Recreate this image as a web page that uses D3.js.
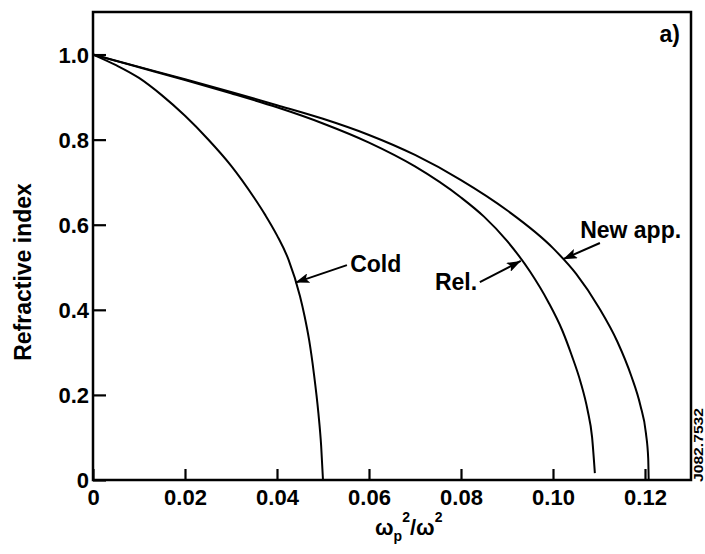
<!DOCTYPE html>
<html>
<head>
<meta charset="utf-8">
<script src="https://cdn.jsdelivr.net/npm/d3@7"></script>
<style>
  body { margin: 0; background: #fff; }
  text { font-family: "Liberation Sans", Arial, sans-serif; font-weight: bold; fill: #000; }
</style>
</head>
<body>
<div id="chart"></div>
<script>
// values: [omega_p^2/omega^2, refractive index]
const coldCurve = [
  [0, 1.0], [0.005, 0.975], [0.01, 0.945], [0.015, 0.904], [0.02, 0.856],
  [0.025, 0.801], [0.03, 0.739], [0.035, 0.664], [0.0375, 0.622], [0.04, 0.575],
  [0.0425, 0.518], [0.045, 0.432], [0.046, 0.385], [0.047, 0.328], [0.048, 0.252],
  [0.049, 0.157], [0.0496, 0.080], [0.050, 0.0]
];
const relCurve = [
  [0, 1.0], [0.01, 0.970], [0.02, 0.940], [0.03, 0.909], [0.04, 0.876],
  [0.05, 0.838], [0.06, 0.793], [0.07, 0.737], [0.08, 0.664], [0.085, 0.619],
  [0.09, 0.562], [0.095, 0.490], [0.099, 0.418], [0.102, 0.352], [0.104, 0.295],
  [0.106, 0.230], [0.1075, 0.165], [0.1085, 0.100], [0.1091, 0.016]
];
const newAppCurve = [
  [0, 1.0], [0.01, 0.971], [0.02, 0.942], [0.03, 0.912], [0.04, 0.881],
  [0.05, 0.849], [0.06, 0.811], [0.07, 0.764], [0.08, 0.705], [0.09, 0.634],
  [0.10, 0.545], [0.105, 0.485], [0.110, 0.405], [0.114, 0.325], [0.117, 0.245],
  [0.119, 0.175], [0.1202, 0.110], [0.1207, 0.050], [0.1208, 0.0]
];

const xTicks = [0, 0.02, 0.04, 0.06, 0.08, 0.10, 0.12];
const xTickLabels = ["0", "0.02", "0.04", "0.06", "0.08", "0.10", "0.12"];
const yTicks = [0, 0.2, 0.4, 0.6, 0.8, 1.0];
const yTickLabels = ["0", "0.2", "0.4", "0.6", "0.8", "1.0"];

// curve labels: text position, arrow tail, arrow head (data units)
const labels = [
  {name: "Cold", text: [0.0559, 0.489], anchor: "start", from: [0.0552, 0.505], to: [0.0440, 0.464]},
  {name: "Rel.", text: [0.0835, 0.447], anchor: "end", from: [0.0841, 0.465], to: [0.0930, 0.515]},
  {name: "New app.", text: [0.1059, 0.569], anchor: "start", from: [0.1102, 0.557], to: [0.1022, 0.519]}
];

const W = 705, H = 554;
const margin = {top: 12, right: 14, bottom: 74, left: 93};

const x = d3.scaleLinear().domain([0, 0.13]).range([margin.left, W - margin.right]);
const y = d3.scaleLinear().domain([0, 1.1]).range([H - margin.bottom, margin.top]);

const svg = d3.select("#chart").append("svg")
  .attr("width", W)
  .attr("height", H);

svg.append("defs").append("marker")
  .attr("id", "arrow")
  .attr("markerUnits", "userSpaceOnUse")
  .attr("viewBox", "0 0 14 10")
  .attr("refX", 14).attr("refY", 5)
  .attr("markerWidth", 14).attr("markerHeight", 10)
  .attr("orient", "auto")
  .append("path")
  .attr("d", "M0,0 L14,5 L0,10 L3,5 Z")
  .attr("fill", "#000");

// axes, ticks pointing inward
const xAxis = d3.axisBottom(x)
  .tickValues(xTicks)
  .tickFormat((d, i) => xTickLabels[i])
  .tickSize(-11)
  .tickPadding(9);

const yAxis = d3.axisLeft(y)
  .tickValues(yTicks)
  .tickFormat((d, i) => yTickLabels[i])
  .tickSize(-13)
  .tickPadding(4);

const gx = svg.append("g")
  .attr("transform", `translate(0, ${y(0)})`)
  .call(xAxis);

const gy = svg.append("g")
  .attr("transform", `translate(${x(0)}, 0)`)
  .call(yAxis);

[gx, gy].forEach(g => {
  g.select(".domain").remove();
  g.selectAll(".tick line").attr("stroke", "#000").attr("stroke-width", 2.2);
  g.selectAll(".tick text")
    .style("font-size", "22px")
    .style("font-family", "'Liberation Sans', Arial, sans-serif")
    .style("font-weight", "bold");
});
gy.selectAll(".tick text").attr("dy", "0.36em");

// frame
svg.append("rect")
  .attr("x", x(0))
  .attr("y", y(1.1))
  .attr("width", x(0.13) - x(0))
  .attr("height", y(0) - y(1.1))
  .attr("fill", "none")
  .attr("stroke", "#000")
  .attr("stroke-width", 2.5);

// curves
const line = d3.line()
  .x(d => x(d[0]))
  .y(d => y(d[1]))
  .curve(d3.curveMonotoneX);

[coldCurve, relCurve, newAppCurve].forEach(c => {
  svg.append("path")
    .datum(c)
    .attr("d", line)
    .attr("fill", "none")
    .attr("stroke", "#000")
    .attr("stroke-width", 2);
});

// labels with arrows
labels.forEach(l => {
  svg.append("line")
    .attr("x1", x(l.from[0])).attr("y1", y(l.from[1]))
    .attr("x2", x(l.to[0])).attr("y2", y(l.to[1]))
    .attr("stroke", "#000")
    .attr("stroke-width", 2)
    .attr("marker-end", "url(#arrow)");
  svg.append("text")
    .attr("x", x(l.text[0]))
    .attr("y", y(l.text[1]))
    .attr("text-anchor", l.anchor)
    .style("font-size", "23px")
    .text(l.name);
});

svg.append("text")
  .attr("x", 680)
  .attr("y", 42)
  .attr("text-anchor", "end")
  .style("font-size", "23px")
  .text("a)");

// axis titles
svg.append("text")
  .attr("transform", `translate(31, ${(y(0) + y(1.1)) / 2 + 26}) rotate(-90)`)
  .attr("text-anchor", "middle")
  .style("font-size", "23px")
  .text("Refractive index");

const xt = svg.append("text")
  .attr("x", 375)
  .attr("y", 535)
  .style("font-size", "22px");
xt.append("tspan").text("ω");
xt.append("tspan").attr("dy", 6).style("font-size", "14px").text("p");
xt.append("tspan").attr("dy", -19).style("font-size", "14px").text("2");
xt.append("tspan").attr("dy", 13).text("/ω");
xt.append("tspan").attr("dy", -13).style("font-size", "14px").text("2");

// figure code on the right edge
svg.append("text")
  .attr("transform", "translate(703, 482) rotate(-90)")
  .attr("textLength", 74)
  .attr("lengthAdjust", "spacingAndGlyphs")
  .style("font-size", "13px")
  .text("J082.7532");
</script>
</body>
</html>
